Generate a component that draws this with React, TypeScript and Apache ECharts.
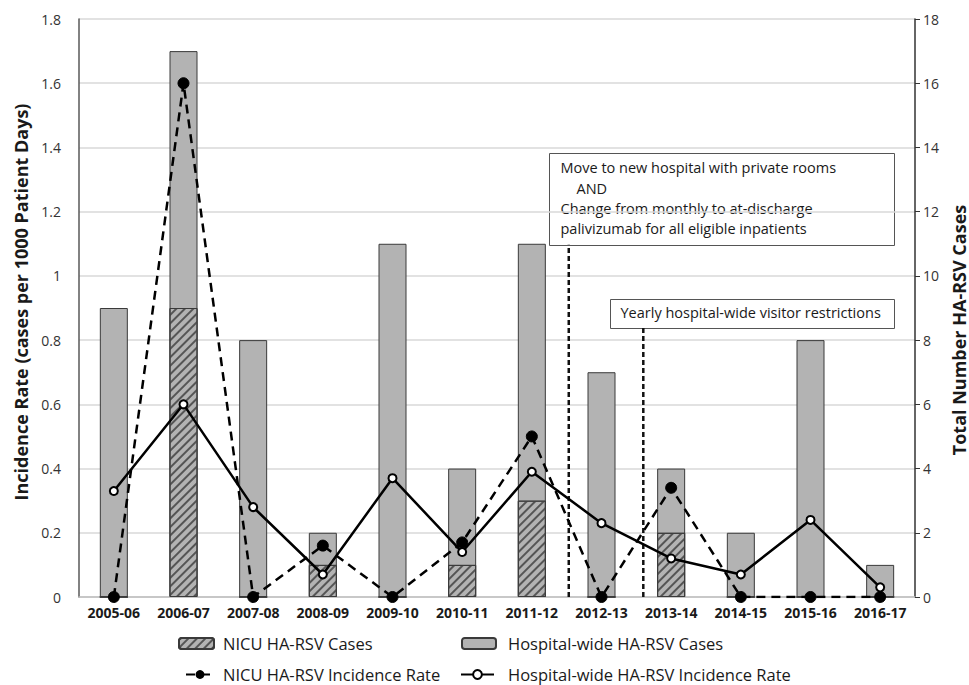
import React, { useEffect, useRef } from "react";
import * as echarts from "echarts";

const seasons = ["2005-06","2006-07","2007-08","2008-09","2009-10","2010-11","2011-12","2012-13","2013-14","2014-15","2015-16","2016-17"];
const hospitalCases = [9, 17, 8, 2, 11, 4, 11, 7, 4, 2, 8, 1];
const nicuCases = [0, 9, 0, 1, 0, 1, 3, 0, 2, 0, 0, 0];
const nicuRate = [0, 1.6, 0, 0.16, 0, 0.17, 0.5, 0, 0.34, 0, 0, 0];
const hospitalRate = [0.33, 0.6, 0.28, 0.07, 0.37, 0.14, 0.39, 0.23, 0.12, 0.07, 0.24, 0.03];
// intervention markers: position on category scale (0..12) and height on left axis
const interventionX = [7.03, 8.1];
const interventionTop = [1.097, 0.838];

const FONT = "'Open Sans', 'Noto Sans', sans-serif";
const GRAY = "#b3b3b3";
const BORDER = "#3a3a3a";

export default function App() {
  const ref = useRef<HTMLDivElement>(null);
  useEffect(() => {
    if (!ref.current) return;
    document.documentElement.style.overflow = "hidden";
    document.body.style.overflow = "hidden";
    document.body.style.margin = "0";
    const chart = echarts.init(ref.current, undefined, { renderer: "svg", width: 969, height: 685 });
    const hatch = {
      symbol: "rect",
      symbolSize: 1,
      dashArrayX: [1, 0],
      dashArrayY: [2, 4],
      rotation: -Math.PI / 4,
      color: "#555555",
    };
    const legendItem = (name: string, left: number, top: number, w: number, gap: number) => ({
      data: [name],
      left,
      top,
      padding: 0,
      itemWidth: w,
      itemHeight: 11,
      textStyle: { fontFamily: FONT, fontSize: 16.5, lineHeight: 17, color: "#1a1a1a", padding: [0, 0, 0, gap] },
    });
    chart.setOption({
      animation: false,
      backgroundColor: "#ffffff",
      textStyle: { fontFamily: FONT },
      grid: { left: 79, right: 54, top: 19, bottom: 88, containLabel: false, outerBoundsMode: "none" },
      legend: [
        legendItem("NICU HA-RSV Cases", 178, 635, 35, 4),
        legendItem("Hospital-wide HA-RSV Cases", 461, 635, 34, 7),
        legendItem("NICU HA-RSV Incidence Rate", 185, 666, 28, 4),
        legendItem("Hospital-wide HA-RSV Incidence Rate", 460, 666, 33, 9),
      ],
      xAxis: [
        {
          type: "category",
          data: seasons,
          axisLine: { lineStyle: { color: "#bfbfbf", width: 1.5 } },
          axisTick: { show: false },
          axisLabel: { interval: 0, fontFamily: FONT, fontSize: 14, fontWeight: "bold", color: "#1a1a1a", margin: 8 },
        },
        { type: "value", min: 0, max: 12, show: false },
      ],
      yAxis: [
        {
          type: "value",
          min: 0,
          max: 1.8,
          interval: 0.2,
          name: "Incidence Rate (cases per 1000 Patient Days)",
          nameLocation: "middle",
          nameRotate: 90,
          nameGap: 49,
          nameTextStyle: { fontFamily: FONT, fontSize: 18, fontWeight: "bold", color: "#1a1a1a", padding: [0, 0, 0, 12] },
          axisLine: { show: true, lineStyle: { color: "#595959", width: 1.5 } },
          axisTick: { show: false },
          axisLabel: { fontFamily: FONT, fontSize: 14, color: "#333333", margin: 18 },
          splitLine: { lineStyle: { color: "#d9d9d9", width: 1.5 } },
        },
        {
          type: "value",
          min: 0,
          max: 18,
          interval: 2,
          position: "right",
          name: "Total Number HA-RSV Cases",
          nameLocation: "middle",
          nameRotate: 90,
          nameGap: 18,
          nameTextStyle: { fontFamily: FONT, fontSize: 18, fontWeight: "bold", color: "#1a1a1a", padding: [0, 44, 0, 0] },
          axisLine: { show: true, lineStyle: { color: "#333333", width: 1.5 } },
          axisTick: { show: true, length: 5, lineStyle: { color: "#333333" } },
          axisLabel: { fontFamily: FONT, fontSize: 14, color: "#333333", margin: 8 },
          splitLine: { show: false },
        },
      ],
      series: [
        {
          name: "Hospital-wide HA-RSV Cases",
          type: "bar",
          yAxisIndex: 1,
          data: hospitalCases,
          barWidth: 28,
          itemStyle: { color: GRAY, borderColor: BORDER, borderWidth: 1 },
          z: 2,
        },
        {
          name: "NICU HA-RSV Cases",
          type: "bar",
          yAxisIndex: 1,
          data: nicuCases,
          barWidth: 28,
          barGap: "-100%",
          itemStyle: { color: GRAY, borderColor: BORDER, borderWidth: 1, decal: hatch },
          z: 3,
        },
        ...interventionX.map((x, i) => ({
          name: "intervention" + i,
          type: "line",
          xAxisIndex: 1,
          yAxisIndex: 0,
          data: [[x, 0], [x, interventionTop[i]]],
          symbol: "none",
          lineStyle: { color: "#111111", width: 2.5, type: [5, 3] },
          z: 4,
          silent: true,
        })),
        {
          name: "NICU HA-RSV Incidence Rate",
          type: "line",
          yAxisIndex: 0,
          data: nicuRate,
          symbol: "circle",
          symbolSize: 11,
          itemStyle: { color: "#000000", borderColor: "#000000" },
          lineStyle: { color: "#000000", width: 2.5, type: [9, 6] },
          z: 5,
        },
        {
          name: "Hospital-wide HA-RSV Incidence Rate",
          type: "line",
          yAxisIndex: 0,
          data: hospitalRate,
          symbol: "emptyCircle",
          symbolSize: 8,
          itemStyle: { color: "#000000", borderColor: "#000000", borderWidth: 2 },
          lineStyle: { color: "#000000", width: 2.5 },
          z: 6,
        },
      ],
      graphic: [
        {
          type: "group",
          left: 549,
          top: 153,
          z: 100,
          children: [
            { type: "rect", shape: { x: 0, y: 0, width: 345, height: 92 }, style: { fill: "#ffffff", stroke: "#555555", lineWidth: 1 } },
            { type: "text", x: 11, y: 6, style: { text: "Move to new hospital with private rooms", font: `14.5px ${FONT}`, fill: "#1a1a1a" } },
            { type: "text", x: 27, y: 27, style: { text: "AND", font: `14.5px ${FONT}`, fill: "#1a1a1a" } },
            { type: "text", x: 11, y: 47, style: { text: "Change from monthly to at-discharge", font: `14.5px ${FONT}`, fill: "#1a1a1a" } },
            { type: "text", x: 11, y: 67, style: { text: "palivizumab for all eligible inpatients", font: `14.5px ${FONT}`, fill: "#1a1a1a" } },
          ],
        },
        {
          type: "group",
          left: 610,
          top: 299,
          z: 100,
          children: [
            { type: "rect", shape: { x: 0, y: 0, width: 284, height: 29 }, style: { fill: "#ffffff", stroke: "#555555", lineWidth: 1 } },
            { type: "text", x: 10, y: 5, style: { text: "Yearly hospital-wide visitor restrictions", font: `14.5px ${FONT}`, fill: "#1a1a1a" } },
          ],
        },
      ],
    });
    return () => chart.dispose();
  }, []);
  return <div ref={ref} style={{ width: 969, height: 685, position: "absolute", left: 0, top: 0 }} />;
}
